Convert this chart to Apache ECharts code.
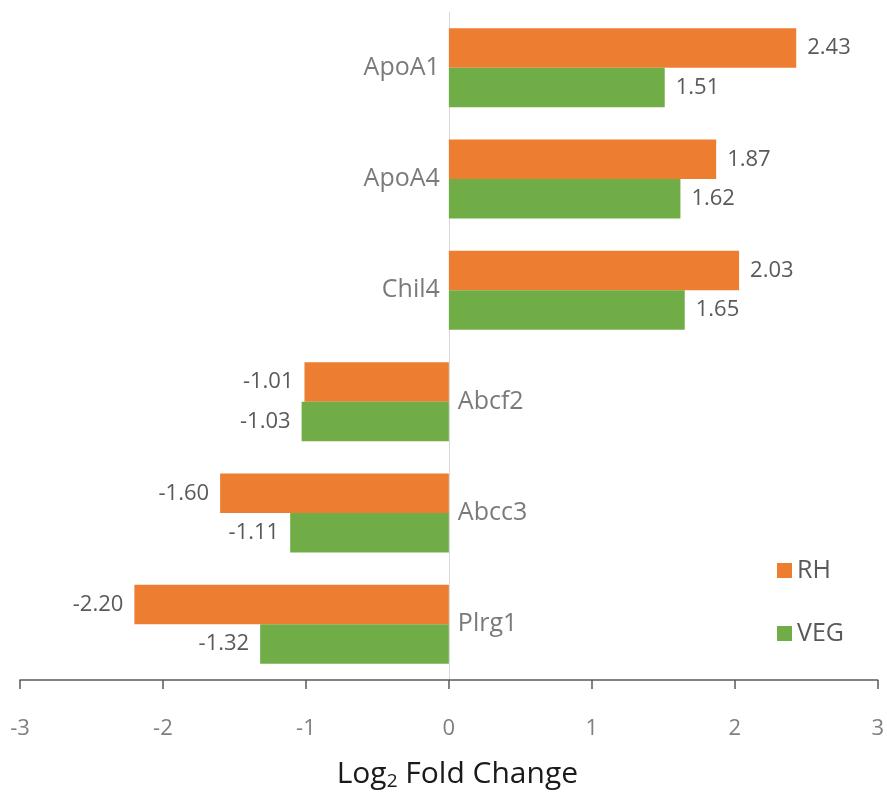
<!DOCTYPE html>
<html>
<head>
<meta charset="utf-8">
<title>Log2 Fold Change</title>
<script src="https://cdn.jsdelivr.net/npm/echarts@6/dist/echarts.min.js"></script>
<style>
  html, body { margin: 0; padding: 0; background: #ffffff; }
  #chart { width: 887px; height: 796px; }
</style>
</head>
<body>
<div id="chart"></div>
<script>
// Genes, listed top to bottom
const genes = ['ApoA1', 'ApoA4', 'Chil4', 'Abcf2', 'Abcc3', 'Plrg1'];
// log2 fold change per treatment
const rhValues = [2.43, 1.87, 2.03, -1.01, -1.60, -2.20];
const vegValues = [1.51, 1.62, 1.65, -1.03, -1.11, -1.32];
const seriesNames = ['RH', 'VEG'];
const xTicks = { min: -3, max: 3, step: 1 };

const FONT = '"Open Sans", "Noto Sans", sans-serif';
const TEXT = '#595959';

// value labels go past the end of each bar, on whichever side it points to
function barData(values) {
  return values.map(v => ({ value: v, label: { position: v < 0 ? 'left' : 'right' } }));
}
// gene names sit beside the zero line, opposite the bars
const geneLabelData = genes.map((g, i) => ({
  value: [0, g],
  label: { position: rhValues[i] < 0 ? 'right' : 'left' }
}));

const valueLabel = {
  show: true, distance: 11, fontFamily: FONT, fontSize: 22, color: TEXT,
  formatter: p => p.value.toFixed(2)
};

const chart = echarts.init(document.getElementById('chart'), null, { renderer: 'canvas' });
chart.setOption({
  animation: false,
  textStyle: { fontFamily: FONT },
  legend: {
    data: seriesNames, orient: 'vertical', left: 772, top: 553,
    itemWidth: 15, itemHeight: 15, itemGap: 38, itemTextGap: 10, icon: 'rect',
    textStyle: { fontFamily: FONT, fontSize: 25, color: TEXT, lineHeight: 25 }
  },
  grid: { left: 20, right: 9, top: 12, bottom: 109, containLabel: false },
  xAxis: {
    type: 'value', min: xTicks.min, max: xTicks.max, interval: xTicks.step,
    splitLine: { show: false },
    axisLine: { show: true, lineStyle: { color: '#595959', width: 1.5 } },
    axisTick: { show: true, length: 9, lineStyle: { color: '#595959', width: 1.5 } },
    axisLabel: { fontFamily: FONT, fontSize: 22, color: '#7f7f7f', margin: 38 },
    name: 'Log{sub|2} Fold Change',
    nameLocation: 'middle',
    nameGap: 77,
    nameTextStyle: {
      fontFamily: FONT, fontSize: 30, color: '#1a1a1a', padding: [0, 0, 0, 17],
      rich: { sub: { fontFamily: FONT, fontSize: 19, color: '#1a1a1a', padding: [15, 0, 0, 0] } }
    }
  },
  yAxis: {
    type: 'category', data: genes, inverse: true,
    axisLine: { show: true, onZero: true, lineStyle: { color: '#d9d9d9', width: 1 } },
    axisTick: { show: false }, axisLabel: { show: false }, splitLine: { show: false }
  },
  series: [
    { name: seriesNames[0], type: 'bar', data: barData(rhValues), barGap: '0%', barCategoryGap: '29%',
      itemStyle: { color: '#ED7D31' }, label: valueLabel },
    { name: seriesNames[1], type: 'bar', data: barData(vegValues), barGap: '0%', barCategoryGap: '29%',
      itemStyle: { color: '#70AD47' }, label: valueLabel },
    { name: 'genes', type: 'scatter', data: geneLabelData, symbolSize: 0, silent: true, z: 5,
      label: { show: true, distance: 9, fontFamily: FONT, fontSize: 25, color: TEXT, formatter: p => p.value[1] } }
  ]
});
</script>
</body>
</html>
